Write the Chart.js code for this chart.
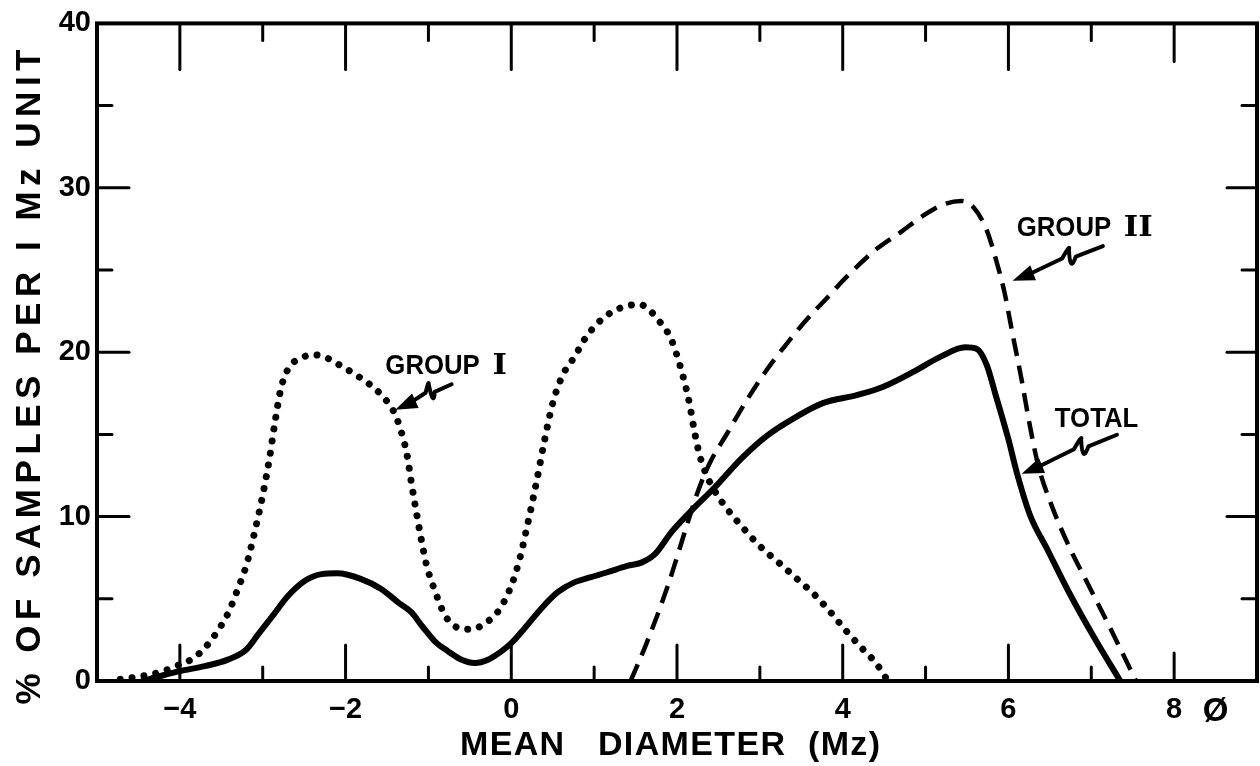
<!DOCTYPE html>
<html>
<head>
<meta charset="utf-8">
<script src="https://cdn.jsdelivr.net/npm/chart.js@4.4.1/dist/chart.umd.min.js"></script>
<style>
  html, body { margin: 0; padding: 0; background: #fff; }
  #wrap { width: 1260px; height: 766px; position: relative; }
</style>
</head>
<body>
<div id="wrap"><canvas id="c"></canvas></div>
<script>
// ---- data ----
const group1X = [-4.72,-4.45,-4.2,-4.0,-3.85,-3.7,-3.55,-3.42,-3.3,-3.2,-3.1,-3.0,-2.92,-2.85,-2.78,-2.68,-2.55,-2.4,-2.25,-2.1,-1.9,-1.7,-1.55,-1.42,-1.33,-1.26,-1.21,-1.15,-1.09,-1.02,-0.93,-0.8,-0.65,-0.48,-0.32,-0.15,0.0,0.1,0.2,0.3,0.4,0.5,0.62,0.76,0.9,1.05,1.2,1.38,1.55,1.68,1.8,1.92,2.0,2.08,2.15,2.21,2.27,2.35,2.45,2.6,2.8,3.0,3.25,3.45,3.65,3.85,4.05,4.25,4.4,4.52];
const group1Y = [0.1,0.3,0.6,1.0,1.35,2.0,3.0,4.1,5.6,7.0,9.0,11.3,13.5,15.8,17.8,19.1,19.6,19.85,19.7,19.3,18.7,18.0,17.3,16.4,15.2,13.8,12.2,10.4,8.7,7.0,5.6,4.0,3.25,3.15,3.5,4.3,5.8,7.4,9.6,12.0,14.6,16.9,18.6,19.7,20.9,21.8,22.4,22.8,22.9,22.5,21.8,20.9,19.8,18.4,16.9,15.2,13.8,12.6,11.6,10.5,9.3,8.2,7.1,6.2,5.3,4.2,3.0,1.9,1.1,0.2];

const group2X = [1.44,1.625,1.89,2.09,2.25,2.4,2.61,2.82,3.08,3.29,3.55,3.81,4.07,4.39,4.7,5.0,5.22,5.43,5.58,5.74,5.84,5.95,6.05,6.16,6.26,6.36,6.52,6.73,6.99,7.25,7.54];
const group2Y = [0,2.2,5.8,9.0,11.5,13.3,15.1,16.9,18.9,20.3,21.9,23.3,24.7,26.2,27.3,28.4,29.0,29.2,28.8,27.4,25.8,23.7,21.1,18.3,15.5,13.1,10.7,8.2,5.6,3.0,0];

const totalX = [-4.45,-4.2,-4.0,-3.7,-3.42,-3.2,-3.06,-2.89,-2.69,-2.49,-2.29,-2.1,-1.81,-1.57,-1.37,-1.21,-1.07,-0.92,-0.76,-0.6,-0.44,-0.28,-0.12,0.0,0.16,0.36,0.56,0.76,0.95,1.15,1.4,1.57,1.73,1.94,2.2,2.46,2.77,3.08,3.45,3.76,4.18,4.49,4.85,5.17,5.48,5.62,5.74,5.84,6.0,6.1,6.26,6.47,6.73,7.04,7.35];
const totalY = [0,0.35,0.6,0.9,1.3,1.9,2.8,3.9,5.2,6.1,6.5,6.55,6.2,5.6,4.8,4.2,3.3,2.4,1.8,1.3,1.1,1.3,1.8,2.3,3.2,4.4,5.4,6.0,6.3,6.6,7.0,7.2,7.7,9.1,10.5,11.8,13.5,14.9,16.1,16.9,17.4,17.9,18.8,19.7,20.3,20.2,19.2,17.5,14.7,12.7,10.1,8.0,5.4,2.6,0];

const xTickValues = [-4, -2, 0, 2, 4, 6, 8];
const yTickValues = [0, 10, 20, 30, 40];
const xLabel = 'MEAN   DIAMETER  (Mz)';
const yLabel = '% OF SAMPLES PER I Mz UNIT';
const unitLabel = 'Ø';

// annotation labels and arrows (data coordinates)
const labelNames = ['GROUP ', 'GROUP ', 'TOTAL'];
const labelNumerals = ['I', 'II', ''];
const labelAnchorX = [-1.52, 6.10, 6.56];
const labelAnchorY = [18.7, 27.05, 15.45];
const arrowTailX = [-0.72, 7.14, 7.31];
const arrowTailY = [18.05, 26.45, 14.98];
const arrowHeadX = [-1.40, 6.05, 6.16];
const arrowHeadY = [16.5, 24.35, 12.6];

const pts = (xs, ys) => xs.map((x, i) => ({ x: x, y: ys[i] }));
const FONT = '"Liberation Sans", Arial, sans-serif';

function fittedText(ctx, text, cx, cy, width) {
  ctx.letterSpacing = '0px';
  const w0 = ctx.measureText(text).width;
  const sp = (width - w0) / (text.length - 1);
  ctx.letterSpacing = sp.toFixed(2) + 'px';
  const w1 = ctx.measureText(text).width;
  ctx.textAlign = 'left';
  ctx.fillText(text, cx - (w1 - sp) / 2, cy);
  ctx.letterSpacing = '0px';
}

const frameAndNotes = {
  id: 'frameAndNotes',
  afterDatasetsDraw(chart) {
    const ctx = chart.ctx;
    const { left, right, top, bottom } = chart.chartArea;
    const xs = chart.scales.x, ys = chart.scales.y;
    ctx.save();
    ctx.strokeStyle = '#000';
    ctx.fillStyle = '#000';
    ctx.lineCap = 'round';
    // frame
    ctx.lineWidth = 4;
    ctx.strokeRect(left, top, right - left, bottom - top);
    // inward ticks
    ctx.lineWidth = 3;
    for (let v = -4; v <= 8; v++) {
      const px = xs.getPixelForValue(v);
      const even = v % 2 === 0;
      const lb = even ? (v === 8 ? 28 : 36) : 14;
      const lt = even ? (v === 8 ? 38 : 46) : 17;
      ctx.beginPath(); ctx.moveTo(px, bottom); ctx.lineTo(px, bottom - lb); ctx.stroke();
      ctx.beginPath(); ctx.moveTo(px, top); ctx.lineTo(px, top + lt); ctx.stroke();
    }
    for (let v = 5; v <= 35; v += 5) {
      const py = ys.getPixelForValue(v);
      const major = v % 10 === 0;
      ctx.beginPath(); ctx.moveTo(left, py); ctx.lineTo(left + (major ? 32 : 15), py); ctx.stroke();
      ctx.beginPath(); ctx.moveTo(right, py); ctx.lineTo(right - (major ? 30 : 15), py); ctx.stroke();
    }
    // unit symbol after the last x tick label
    ctx.font = 'bold 33px ' + FONT;
    ctx.textAlign = 'center';
    ctx.textBaseline = 'middle';
    ctx.fillText(unitLabel, xs.getPixelForValue(8.5), bottom + 31);

    // axis titles
    ctx.font = 'bold 34px ' + FONT;
    ctx.textBaseline = 'middle';
    fittedText(ctx, xLabel, (left + right) / 2 - 7, 746, 420);
    ctx.save();
    ctx.translate(30, 377);
    ctx.rotate(-Math.PI / 2);
    ctx.font = 'bold 35px ' + FONT;
    fittedText(ctx, yLabel, 0, 0, 655);
    ctx.restore();

    // labels
    for (let i = 0; i < labelNames.length; i++) {
      const lx = xs.getPixelForValue(labelAnchorX[i]);
      const ly = ys.getPixelForValue(labelAnchorY[i]);
      ctx.textAlign = 'left';
      ctx.textBaseline = 'alphabetic';
      ctx.save();
      ctx.translate(lx, ly);
      ctx.scale(0.92, 1);
      ctx.font = 'bold 28px ' + FONT;
      ctx.fillText(labelNames[i], 0, 0);
      const w = ctx.measureText(labelNames[i]).width;
      if (labelNumerals[i]) {
        ctx.font = 'bold 28px "DejaVu Serif", "Liberation Serif", serif';
        ctx.translate(w + 6, 0);
        ctx.scale(1.2, 1);
        ctx.fillText(labelNumerals[i], 0, 0);
      }
      ctx.restore();
      // squiggle arrow
      const tx = xs.getPixelForValue(arrowTailX[i]), ty = ys.getPixelForValue(arrowTailY[i]);
      const hx = xs.getPixelForValue(arrowHeadX[i]), hy = ys.getPixelForValue(arrowHeadY[i]);
      const dx = hx - tx, dy = hy - ty;
      const len = Math.hypot(dx, dy);
      const ux = dx / len, uy = dy / len;
      const nx = -uy, ny = ux;
      const at = (f, o) => [tx + dx * f + nx * o, ty + dy * f + ny * o];
      ctx.lineWidth = 4;
      ctx.lineJoin = 'round';
      ctx.beginPath();
      let p = at(0, 0); ctx.moveTo(p[0], p[1]);
      p = at(0.3, 0); ctx.lineTo(p[0], p[1]);
      const c1 = at(0.42, -14), e1 = at(0.34, 9);
      ctx.quadraticCurveTo(c1[0], c1[1], e1[0], e1[1]);
      const c2 = at(0.3, 14), e2 = at(0.44, 3);
      ctx.quadraticCurveTo(c2[0], c2[1], e2[0], e2[1]);
      const hb = at(1 - 16 / len, 0);
      ctx.lineTo(hb[0], hb[1]);
      ctx.stroke();
      // head
      const b1 = [hx - ux * 22 + nx * 8, hy - uy * 22 + ny * 8];
      const b2 = [hx - ux * 22 - nx * 8, hy - uy * 22 - ny * 8];
      ctx.beginPath();
      ctx.moveTo(hx, hy); ctx.lineTo(b1[0], b1[1]); ctx.lineTo(b2[0], b2[1]); ctx.closePath();
      ctx.fill();
    }
    ctx.restore();
  }
};

const numFmt = v => (v < 0 ? '\u2212' + Math.abs(v) : String(v));

new Chart(document.getElementById('c'), {
  type: 'scatter',
  data: {
    datasets: [
      {
        label: 'Group I',
        data: pts(group1X, group1Y),
        showLine: true,
        borderColor: '#000',
        borderWidth: 7,
        borderDash: [0.01, 12],
        borderCapStyle: 'round',
        pointRadius: 0,
        cubicInterpolationMode: 'monotone',
        fill: false
      },
      {
        label: 'Group II',
        data: pts(group2X, group2Y),
        showLine: true,
        borderColor: '#000',
        borderWidth: 4.5,
        borderDash: [18, 10],
        pointRadius: 0,
        cubicInterpolationMode: 'monotone',
        fill: false
      },
      {
        label: 'Total',
        data: pts(totalX, totalY),
        showLine: true,
        borderColor: '#000',
        borderWidth: 6,
        borderCapStyle: 'round',
        borderJoinStyle: 'round',
        pointRadius: 0,
        cubicInterpolationMode: 'monotone',
        fill: false
      }
    ]
  },
  options: {
    responsive: true,
    maintainAspectRatio: false,
    animation: false,
    layout: { padding: { top: 19, right: 3, left: 0, bottom: 0 } },
    plugins: { legend: { display: false }, tooltip: { enabled: false } },
    scales: {
      x: {
        type: 'linear',
        min: -5, max: 9,
        afterBuildTicks: s => { s.ticks = xTickValues.map(v => ({ value: v })); },
        afterFit: s => { s.height = 85; },
        grid: { display: false, drawTicks: false },
        border: { display: false },
        ticks: {
          color: '#000',
          font: { family: FONT, size: 29, weight: 'bold' },
          padding: 12,
          maxRotation: 0,
          callback: v => numFmt(v)
        },
        title: { display: false, text: xLabel }
      },
      y: {
        min: 0, max: 40,
        afterBuildTicks: s => { s.ticks = yTickValues.map(v => ({ value: v })); },
        afterFit: s => { s.width = 97; },
        grid: { display: false, drawTicks: false },
        border: { display: false },
        ticks: {
          color: '#000',
          font: { family: FONT, size: 29, weight: 'bold' },
          padding: 6
        },
        title: { display: false, text: yLabel }
      }
    }
  },
  plugins: [frameAndNotes]
});
</script>
</body>
</html>
